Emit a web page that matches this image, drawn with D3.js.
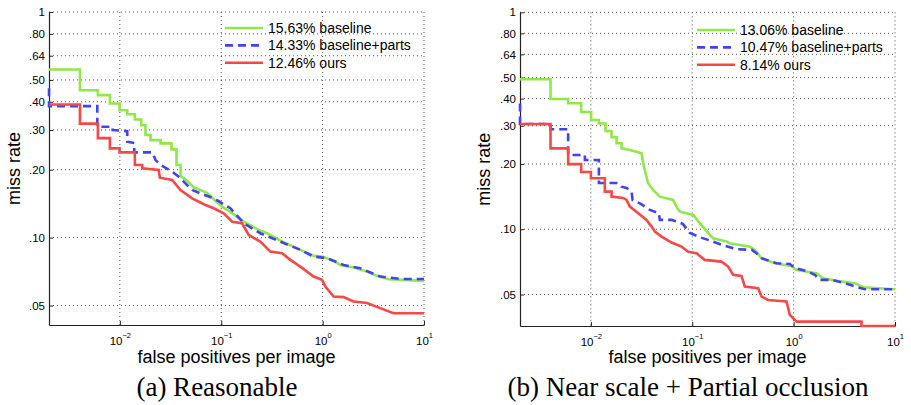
<!DOCTYPE html>
<html>
<head>
<meta charset="utf-8">
<script src="https://cdn.jsdelivr.net/npm/d3@7"></script>
<style>
body { margin: 0; background: #fff; }
svg { display: block; }
</style>
</head>
<body>
<svg></svg>
<script>
// tick values and labels
const yTicks = [0.05, 0.1, 0.2, 0.3, 0.4, 0.5, 0.64, 0.8, 1];
const yTickLabels = [".05", ".10", ".20", ".30", ".40", ".50", ".64", ".80", "1"];
const xTicks = [0.01, 0.1, 1, 10];
const xTickExp = ["\u22122", "\u22121", "0", "1"];

const seriesNames = ["baseline", "baseline+parts", "ours"];
const reasonableRates = ["15.63%", "14.33%", "12.46%"];
const occlusionRates = ["13.06%", "10.47%", "8.14%"];
const captions = ["(a) Reasonable", "(b) Near scale + Partial occlusion"];

// [fppi, miss rate]
const reasonableBaseline = [[0.002,0.556],[0.00404,0.556],[0.00404,0.450],[0.00607,0.450],[0.00607,0.428],[0.00797,0.428],[0.00797,0.393],[0.00993,0.393],[0.00993,0.367],[0.01183,0.367],[0.01183,0.352],[0.01406,0.352],[0.01406,0.334],[0.01626,0.334],[0.01626,0.315],[0.0179,0.315],[0.0179,0.285],[0.02007,0.285],[0.02007,0.2705],[0.0252,0.2705],[0.0252,0.2617],[0.0323,0.2617],[0.0323,0.246],[0.0362,0.246],[0.0362,0.210],[0.0397,0.210],[0.0397,0.1875],[0.0444,0.1813],[0.0536,0.167],[0.0726,0.158],[0.0843,0.148],[0.102,0.137],[0.123,0.130],[0.1667,0.1177],[0.226,0.109],[0.283,0.1046],[0.383,0.0970],[0.603,0.0883],[0.815,0.0830],[0.986,0.0824],[1.283,0.0791],[1.494,0.0757],[2.02,0.0737],[2.737,0.0707],[3.435,0.0677],[4.467,0.0654],[10,0.0643]];
const reasonableParts = [[0.002,0.4597],[0.002,0.3826],[0.00599,0.3826],[0.00599,0.310],[0.00848,0.310],[0.00848,0.2996],[0.01183,0.2965],[0.01183,0.266],[0.01387,0.2624],[0.01387,0.2387],[0.02085,0.2387],[0.0225,0.2207],[0.0252,0.210],[0.0328,0.196],[0.0381,0.186],[0.0517,0.1626],[0.0624,0.157],[0.0843,0.1494],[0.123,0.135],[0.1667,0.1158],[0.243,0.1046],[0.383,0.096],[0.603,0.0883],[0.815,0.0824],[1.104,0.0811],[1.61,0.0757],[2.35,0.0732],[3.70,0.0672],[5.83,0.0656],[10,0.0656]];
const reasonableOurs = [[0.002,0.389],[0.00404,0.389],[0.00404,0.320],[0.00607,0.320],[0.00607,0.276],[0.00797,0.276],[0.00797,0.2486],[0.00993,0.2486],[0.00993,0.2387],[0.01406,0.2387],[0.01406,0.210],[0.01663,0.210],[0.01663,0.2028],[0.0242,0.1993],[0.0248,0.1843],[0.0328,0.180],[0.0396,0.1626],[0.0517,0.1494],[0.0698,0.1395],[0.0843,0.135],[0.1058,0.1282],[0.128,0.1177],[0.1606,0.1158],[0.1866,0.1028],[0.243,0.096],[0.305,0.0867],[0.398,0.0853],[0.481,0.0797],[0.603,0.0744],[0.815,0.0672],[0.986,0.065],[1.064,0.0607],[1.283,0.0548],[1.61,0.0545],[2.02,0.0521],[2.737,0.0513],[3.70,0.0487],[5.01,0.0462],[10,0.0462]];

const occlusionBaseline = [[0.002,0.491],[0.004,0.491],[0.004,0.3986],[0.00597,0.3986],[0.00597,0.3807],[0.00802,0.3807],[0.00802,0.347],[0.01007,0.347],[0.01007,0.3189],[0.0120,0.3189],[0.0120,0.3073],[0.01396,0.3073],[0.01396,0.2838],[0.0160,0.2838],[0.0160,0.2655],[0.01793,0.2655],[0.01793,0.249],[0.0201,0.249],[0.0201,0.236],[0.0225,0.2337],[0.0282,0.2278],[0.0316,0.2240],[0.0328,0.2014],[0.0367,0.163],[0.0411,0.1518],[0.0479,0.1413],[0.0648,0.1365],[0.070,0.1271],[0.0755,0.1205],[0.1023,0.1164],[0.1189,0.1066],[0.149,0.0941],[0.1608,0.0909],[0.218,0.0877],[0.235,0.0862],[0.370,0.0831],[0.414,0.0803],[0.482,0.0735],[0.653,0.0697],[0.953,0.0677],[1.07,0.0649],[1.68,0.0627],[1.955,0.0594],[2.65,0.0578],[4.01,0.0564],[4.84,0.0540],[10,0.0529]];
const occlusionParts = [[0.002,0.380],[0.002,0.3056],[0.004,0.3056],[0.004,0.289],[0.00597,0.289],[0.00597,0.220],[0.00873,0.220],[0.00873,0.2086],[0.0120,0.2086],[0.0120,0.1634],[0.01846,0.1634],[0.0201,0.1571],[0.0225,0.1550],[0.0252,0.1490],[0.0258,0.1365],[0.0311,0.1308],[0.0382,0.1227],[0.0469,0.1185],[0.0479,0.1104],[0.0629,0.1104],[0.0808,0.1058],[0.0947,0.0961],[0.1244,0.0912],[0.1608,0.0877],[0.2097,0.0838],[0.2735,0.0809],[0.387,0.0803],[0.4305,0.0775],[0.4825,0.0735],[0.678,0.0697],[0.917,0.0692],[1.028,0.0663],[1.39,0.0638],[1.62,0.0616],[1.81,0.0584],[2.366,0.0584],[3.2,0.0564],[4.30,0.054],[5.04,0.0529],[10,0.0529]];
const occlusionOurs = [[0.002,0.3056],[0.004,0.3056],[0.004,0.236],[0.00597,0.236],[0.00597,0.1995],[0.00802,0.1995],[0.00802,0.1837],[0.01,0.1837],[0.01,0.1718],[0.01374,0.1718],[0.01374,0.149],[0.0160,0.149],[0.0160,0.1413],[0.0208,0.1394],[0.0225,0.1365],[0.02424,0.1271],[0.0293,0.1185],[0.0354,0.1104],[0.0397,0.1028],[0.0428,0.0975],[0.0498,0.0925],[0.0625,0.0868],[0.0785,0.0831],[0.0912,0.0788],[0.1103,0.0775],[0.133,0.0722],[0.1945,0.0709],[0.226,0.0673],[0.253,0.0616],[0.306,0.0609],[0.330,0.0544],[0.447,0.0535],[0.4825,0.0489],[0.561,0.0472],[0.851,0.0464],[0.917,0.0403],[1.028,0.0382],[1.07,0.0375],[4.67,0.0375],[4.67,0.0358],[10,0.0358]];

const w = 911, h = 405;
const colors = ["#8fe84a", "#4242f5", "#f74848"];
const sans = "'Liberation Sans', Arial, Helvetica, sans-serif";

const panels = [
  { left: 49, right: 424, top: 12, bottom: 325, yMin: 0.041,
    series: [reasonableBaseline, reasonableParts, reasonableOurs], rates: reasonableRates,
    legX: 225, legY: 28, yLabX: 19.5, capX: 217, caption: captions[0] },
  { left: 520, right: 895, top: 12.3, bottom: 326, yMin: 0.0358,
    series: [occlusionBaseline, occlusionParts, occlusionOurs], rates: occlusionRates,
    legX: 697, legY: 30, yLabX: 490, capX: 688, caption: captions[1] }
];

const svg = d3.select("svg").attr("width", w).attr("height", h);

panels.forEach(p => {
  const x = d3.scaleLog().domain([0.002, 10]).range([p.left, p.right]);
  const y = d3.scaleLog().domain([p.yMin, 1]).range([p.bottom, p.top]);
  const g = svg.append("g");

  // dotted grid
  g.selectAll(".hgrid").data(yTicks).join("line")
    .attr("x1", p.left).attr("x2", p.right)
    .attr("y1", d => y(d)).attr("y2", d => y(d))
    .attr("stroke", "#555").attr("stroke-width", 1).attr("stroke-dasharray", "1,3");
  g.selectAll(".vgrid").data(xTicks).join("line")
    .attr("x1", d => x(d)).attr("x2", d => x(d))
    .attr("y1", p.top).attr("y2", p.bottom)
    .attr("stroke", "#555").attr("stroke-width", 1).attr("stroke-dasharray", "1,3");

  // axes
  const yAxis = d3.axisLeft(y).tickValues(yTicks)
    .tickFormat((d, i) => yTickLabels[i]).tickSizeInner(-4).tickSizeOuter(0).tickPadding(4);
  const xAxis = d3.axisBottom(x).tickValues(xTicks)
    .tickFormat("").tickSizeInner(-4).tickSizeOuter(0).tickPadding(12);

  const ya = g.append("g").attr("transform", `translate(${p.left},0)`).call(yAxis);
  const xa = g.append("g").attr("transform", `translate(0,${p.bottom})`).call(xAxis);
  [ya, xa].forEach(a => {
    a.attr("font-family", sans).attr("font-size", 11.5);
    a.select(".domain").attr("stroke", "#222").attr("stroke-width", 1.2);
    a.selectAll(".tick line").attr("stroke", "#222");
    a.selectAll(".tick text").attr("fill", "#000");
  });
  xa.selectAll(".tick text").each(function(d, i) {
    const t = d3.select(this);
    t.append("tspan").text("10");
    t.append("tspan").attr("dy", -7).attr("font-size", 7.5).text(xTickExp[i]);
  });

  // curves
  const line = d3.line().x(d => x(d[0])).y(d => y(d[1]));
  p.series.forEach((s, i) => {
    g.append("path").datum(s)
      .attr("d", line)
      .attr("fill", "none")
      .attr("stroke", colors[i])
      .attr("stroke-width", 2.6)
      .attr("stroke-dasharray", i === 1 ? "8,5" : null);
  });

  // legend
  seriesNames.forEach((name, i) => {
    const ly = p.legY + i * 17.4;
    g.append("line")
      .attr("x1", p.legX).attr("x2", p.legX + 38)
      .attr("y1", ly).attr("y2", ly)
      .attr("stroke", colors[i]).attr("stroke-width", 2.6)
      .attr("stroke-dasharray", i === 1 ? "8,5" : null);
    g.append("text")
      .attr("x", p.legX + 43).attr("y", ly + 5)
      .attr("font-family", sans).attr("font-size", 14)
      .text(`${p.rates[i]} ${name}`);
  });

  // labels
  g.append("text")
    .attr("transform", `translate(${p.yLabX},${(p.top + p.bottom) / 2}) rotate(-90)`)
    .attr("text-anchor", "middle")
    .attr("font-family", sans).attr("font-size", 18)
    .text("miss rate");
  g.append("text")
    .attr("x", (p.left + p.right) / 2).attr("y", 363)
    .attr("text-anchor", "middle")
    .attr("font-family", sans).attr("font-size", 18)
    .text("false positives per image");
  g.append("text")
    .attr("x", p.capX).attr("y", 396)
    .attr("text-anchor", "middle")
    .attr("font-family", "'Liberation Serif', 'Times New Roman', serif").attr("font-size", 27)
    .text(p.caption);
});
</script>
</body>
</html>
